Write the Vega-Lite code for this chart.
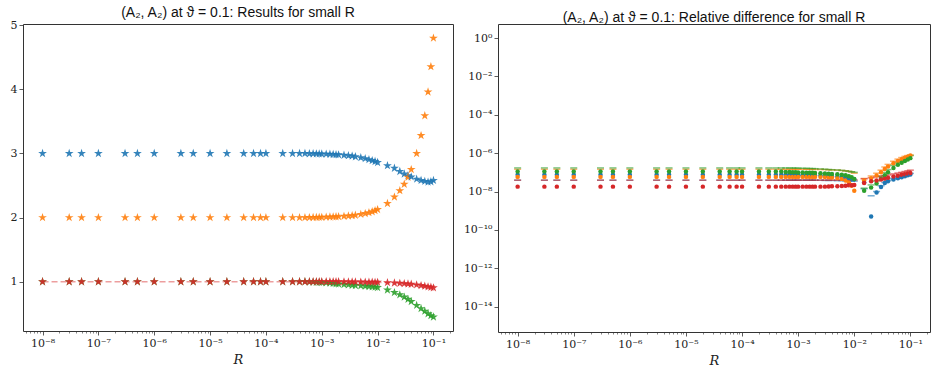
{
  "$schema": "https://vega.github.io/schema/vega-lite/v6.json",
  "padding": {"left": 9, "right": 9, "top": 5, "bottom": 2},
  "config": {
    "view": {"stroke": "#333", "strokeWidth": 1},
    "axis": {"grid": false, "domain": false, "tickColor": "#333", "tickWidth": 0.8, "labelFont": "DejaVu Serif", "labelFontSize": 11, "labelColor": "#222", "titleFont": "DejaVu Serif", "titleFontStyle": "italic", "titleFontWeight": "normal", "titleFontSize": 13, "titleColor": "#222", "tickSize": 4, "labelPadding": 2, "titlePadding": 5},
    "title": {"font": "Liberation Sans", "fontSize": 14, "fontWeight": "normal", "color": "#111", "frame": "group", "offset": 1, "dy": 2}
  },
  "datasets": {
    "d": [
      {"R": 1e-8, "b": 3, "o": 2, "g": 1, "r": 1, "bs": 7.5e-8, "os": 5.8e-8, "gs": 1.1e-7, "rs": 1.8e-8, "bd": 3.9e-8, "od": 1.45e-7, "gd": 1.7e-7, "rd": 3.9e-8},
      {"R": 3e-8, "b": 3, "o": 2, "g": 1, "r": 1, "bs": 7.5e-8, "os": 5.8e-8, "gs": 1.1e-7, "rs": 1.8e-8, "bd": 3.9e-8, "od": 1.45e-7, "gd": 1.7e-7, "rd": 3.9e-8},
      {"R": 5e-8, "b": 3, "o": 2, "g": 1, "r": 1, "bs": 7.5e-8, "os": 5.8e-8, "gs": 1.1e-7, "rs": 1.8e-8, "bd": 3.9e-8, "od": 1.45e-7, "gd": 1.7e-7, "rd": 3.9e-8},
      {"R": 1e-7, "b": 3, "o": 2, "g": 1, "r": 1, "bs": 7.5e-8, "os": 5.8e-8, "gs": 1.1e-7, "rs": 1.8e-8, "bd": 3.9e-8, "od": 1.45e-7, "gd": 1.7e-7, "rd": 3.9e-8},
      {"R": 3e-7, "b": 3, "o": 2, "g": 1, "r": 1, "bs": 7.5e-8, "os": 5.8e-8, "gs": 1.1e-7, "rs": 1.8e-8, "bd": 3.9e-8, "od": 1.45e-7, "gd": 1.7e-7, "rd": 3.9e-8},
      {"R": 5e-7, "b": 3, "o": 2, "g": 1, "r": 1, "bs": 7.5e-8, "os": 5.8e-8, "gs": 1.1e-7, "rs": 1.8e-8, "bd": 3.9e-8, "od": 1.45e-7, "gd": 1.7e-7, "rd": 3.9e-8},
      {"R": 1e-6, "b": 3, "o": 2, "g": 1, "r": 1, "bs": 7.5e-8, "os": 5.8e-8, "gs": 1.1e-7, "rs": 1.8e-8, "bd": 3.9e-8, "od": 1.45e-7, "gd": 1.7e-7, "rd": 3.9e-8},
      {"R": 3e-6, "b": 3, "o": 2, "g": 1, "r": 1, "bs": 7.5e-8, "os": 5.8e-8, "gs": 1.1e-7, "rs": 1.8e-8, "bd": 3.9e-8, "od": 1.45e-7, "gd": 1.7e-7, "rd": 3.9e-8},
      {"R": 5e-6, "b": 3, "o": 2, "g": 1, "r": 1, "bs": 7.5e-8, "os": 5.8e-8, "gs": 1.1e-7, "rs": 1.8e-8, "bd": 3.9e-8, "od": 1.45e-7, "gd": 1.7e-7, "rd": 3.9e-8},
      {"R": 1e-5, "b": 3, "o": 2, "g": 1, "r": 1, "bs": 7.5e-8, "os": 5.8e-8, "gs": 1.1e-7, "rs": 1.8e-8, "bd": 3.9e-8, "od": 1.45e-7, "gd": 1.7e-7, "rd": 3.9e-8},
      {"R": 2e-5, "b": 3, "o": 2, "g": 1, "r": 1, "bs": 7.5e-8, "os": 5.8e-8, "gs": 1.1e-7, "rs": 1.8e-8, "bd": 3.9e-8, "od": 1.45e-7, "gd": 1.7e-7, "rd": 3.9e-8},
      {"R": 4e-5, "b": 3, "o": 2, "g": 1, "r": 1, "bs": 7.5e-8, "os": 5.8e-8, "gs": 1.1e-7, "rs": 1.8e-8, "bd": 3.9e-8, "od": 1.45e-7, "gd": 1.7e-7, "rd": 3.9e-8},
      {"R": 6e-5, "b": 3, "o": 2, "g": 1, "r": 1, "bs": 7.5e-8, "os": 5.8e-8, "gs": 1.1e-7, "rs": 1.8e-8, "bd": 3.9e-8, "od": 1.45e-7, "gd": 1.7e-7, "rd": 3.9e-8},
      {"R": 8e-5, "b": 3, "o": 2, "g": 1, "r": 1, "bs": 7.5e-8, "os": 5.8e-8, "gs": 1.1e-7, "rs": 1.8e-8, "bd": 3.9e-8, "od": 1.45e-7, "gd": 1.7e-7, "rd": 3.9e-8},
      {"R": 1e-4, "b": 3, "o": 2, "g": 1, "r": 1, "bs": 7.5e-8, "os": 5.8e-8, "gs": 1.1e-7, "rs": 1.8e-8, "bd": 3.9e-8, "od": 1.45e-7, "gd": 1.7e-7, "rd": 3.9e-8},
      {"R": 2e-4, "b": 3, "o": 2, "g": 1, "r": 1, "bs": 7.5e-8, "os": 5.8e-8, "gs": 1.1e-7, "rs": 1.8e-8, "bd": 3.9e-8, "od": 1.45e-7, "gd": 1.7e-7, "rd": 3.9e-8},
      {"R": 3e-4, "b": 3, "o": 2, "g": 1, "r": 1, "bs": 7.5e-8, "os": 5.8e-8, "gs": 1.1e-7, "rs": 1.8e-8, "bd": 3.9e-8, "od": 1.45e-7, "gd": 1.7e-7, "rd": 3.9e-8},
      {"R": 4e-4, "b": 3, "o": 2, "g": 1, "r": 1, "bs": 7.5e-8, "os": 5.8e-8, "gs": 1.1e-7, "rs": 1.8e-8, "bd": 3.9e-8, "od": 1.45e-7, "gd": 1.7e-7, "rd": 3.9e-8},
      {"R": 5e-4, "b": 3, "o": 2, "g": 1, "r": 1, "bs": 7.5e-8, "os": 5.8e-8, "gs": 1.1e-7, "rs": 1.8e-8, "bd": 3.9e-8, "od": 1.45e-7, "gd": 1.7e-7, "rd": 3.9e-8},
      {"R": 6e-4, "b": 2.997, "o": 2.001, "g": 0.996, "r": 1, "bs": 7.4e-8, "os": 5.8e-8, "gs": 1.05e-7, "rs": 1.8e-8, "bd": 3.9e-8, "od": 1.45e-7, "gd": 1.69e-7, "rd": 3.9e-8},
      {"R": 7e-4, "b": 2.996, "o": 2.002, "g": 0.994, "r": 1, "bs": 7.3e-8, "os": 5.8e-8, "gs": 1.03e-7, "rs": 1.8e-8, "bd": 3.9e-8, "od": 1.45e-7, "gd": 1.68e-7, "rd": 3.9e-8},
      {"R": 8e-4, "b": 2.995, "o": 2.003, "g": 0.992, "r": 1, "bs": 7.3e-8, "os": 5.8e-8, "gs": 1.01e-7, "rs": 1.8e-8, "bd": 3.9e-8, "od": 1.45e-7, "gd": 1.67e-7, "rd": 3.9e-8},
      {"R": 9e-4, "b": 2.994, "o": 2.004, "g": 0.99, "r": 1, "bs": 7.2e-8, "os": 5.8e-8, "gs": 1.0e-7, "rs": 1.8e-8, "bd": 3.9e-8, "od": 1.45e-7, "gd": 1.66e-7, "rd": 3.9e-8},
      {"R": 1e-3, "b": 2.992, "o": 2.005, "g": 0.988, "r": 1, "bs": 7.2e-8, "os": 5.8e-8, "gs": 9.9e-8, "rs": 1.8e-8, "bd": 3.9e-8, "od": 1.45e-7, "gd": 1.65e-7, "rd": 3.9e-8},
      {"R": 1.2e-3, "b": 2.99, "o": 2.007, "g": 0.983, "r": 1, "bs": 7.1e-8, "os": 5.8e-8, "gs": 9.7e-8, "rs": 1.8e-8, "bd": 3.9e-8, "od": 1.44e-7, "gd": 1.63e-7, "rd": 3.9e-8},
      {"R": 1.4e-3, "b": 2.988, "o": 2.009, "g": 0.978, "r": 1, "bs": 7.1e-8, "os": 5.8e-8, "gs": 9.6e-8, "rs": 1.8e-8, "bd": 3.9e-8, "od": 1.44e-7, "gd": 1.61e-7, "rd": 3.9e-8},
      {"R": 1.6e-3, "b": 2.985, "o": 2.011, "g": 0.973, "r": 1, "bs": 7.0e-8, "os": 5.8e-8, "gs": 9.5e-8, "rs": 1.8e-8, "bd": 3.9e-8, "od": 1.43e-7, "gd": 1.59e-7, "rd": 3.9e-8},
      {"R": 1.8e-3, "b": 2.982, "o": 2.013, "g": 0.968, "r": 1, "bs": 7.0e-8, "os": 5.8e-8, "gs": 9.4e-8, "rs": 1.8e-8, "bd": 3.9e-8, "od": 1.43e-7, "gd": 1.57e-7, "rd": 3.9e-8},
      {"R": 2e-3, "b": 2.98, "o": 2.015, "g": 0.964, "r": 0.999, "bs": 6.9e-8, "os": 5.8e-8, "gs": 9.3e-8, "rs": 1.8e-8, "bd": 3.9e-8, "od": 1.42e-7, "gd": 1.55e-7, "rd": 3.9e-8},
      {"R": 2.5e-3, "b": 2.973, "o": 2.02, "g": 0.956, "r": 0.998, "bs": 6.8e-8, "os": 5.8e-8, "gs": 9.0e-8, "rs": 1.8e-8, "bd": 3.9e-8, "od": 1.41e-7, "gd": 1.5e-7, "rd": 3.9e-8},
      {"R": 3e-3, "b": 2.966, "o": 2.025, "g": 0.95, "r": 0.997, "bs": 6.6e-8, "os": 5.7e-8, "gs": 8.7e-8, "rs": 1.8e-8, "bd": 3.8e-8, "od": 1.4e-7, "gd": 1.45e-7, "rd": 3.9e-8},
      {"R": 3.5e-3, "b": 2.96, "o": 2.03, "g": 0.945, "r": 0.996, "bs": 6.4e-8, "os": 5.6e-8, "gs": 8.4e-8, "rs": 1.85e-8, "bd": 3.8e-8, "od": 1.37e-7, "gd": 1.4e-7, "rd": 3.9e-8},
      {"R": 4e-3, "b": 2.95, "o": 2.037, "g": 0.94, "r": 0.995, "bs": 6.2e-8, "os": 5.4e-8, "gs": 8.2e-8, "rs": 1.9e-8, "bd": 3.8e-8, "od": 1.34e-7, "gd": 1.37e-7, "rd": 3.9e-8},
      {"R": 5e-3, "b": 2.935, "o": 2.05, "g": 0.935, "r": 0.994, "bs": 6.0e-8, "os": 5.0e-8, "gs": 8.0e-8, "rs": 1.9e-8, "bd": 3.7e-8, "od": 1.3e-7, "gd": 1.33e-7, "rd": 3.9e-8},
      {"R": 6e-3, "b": 2.92, "o": 2.063, "g": 0.93, "r": 0.993, "bs": 5.7e-8, "os": 4.5e-8, "gs": 7.5e-8, "rs": 1.95e-8, "bd": 3.7e-8, "od": 1.25e-7, "gd": 1.27e-7, "rd": 3.9e-8},
      {"R": 7e-3, "b": 2.905, "o": 2.077, "g": 0.925, "r": 0.992, "bs": 5.4e-8, "os": 3.8e-8, "gs": 7.0e-8, "rs": 2.0e-8, "bd": 3.6e-8, "od": 1.2e-7, "gd": 1.2e-7, "rd": 3.9e-8},
      {"R": 8e-3, "b": 2.89, "o": 2.092, "g": 0.92, "r": 0.991, "bs": 5.0e-8, "os": 3.0e-8, "gs": 6.3e-8, "rs": 2.1e-8, "bd": 3.6e-8, "od": 1.12e-7, "gd": 1.13e-7, "rd": 3.9e-8},
      {"R": 9e-3, "b": 2.875, "o": 2.108, "g": 0.915, "r": 0.99, "bs": 4.7e-8, "os": 2.0e-8, "gs": 5.5e-8, "rs": 2.1e-8, "bd": 3.5e-8, "od": 1.05e-7, "gd": 1.07e-7, "rd": 3.9e-8},
      {"R": 1e-2, "b": 2.86, "o": 2.125, "g": 0.91, "r": 0.99, "bs": 4.4e-8, "os": 1.1e-8, "gs": 4.5e-8, "rs": 2.2e-8, "bd": 3.5e-8, "od": 9e-8, "gd": 1.0e-7, "rd": 4.0e-8},
      {"R": 0.015, "b": 2.81, "o": 2.22, "g": 0.87, "r": 0.985, "bs": 3.0e-8, "os": 3.7e-8, "gs": 1.1e-8, "rs": 2.8e-8, "bd": 1.4e-8, "od": 4.8e-8, "gd": 1.5e-8, "rd": 4.6e-8},
      {"R": 0.02, "b": 2.77, "o": 2.32, "g": 0.83, "r": 0.98, "bs": 5e-10, "os": 5.0e-8, "gs": 1.6e-8, "rs": 3.4e-8, "bd": 6e-9, "od": 6.5e-8, "gd": 2.2e-8, "rd": 5.2e-8},
      {"R": 0.025, "b": 2.72, "o": 2.42, "g": 0.795, "r": 0.975, "bs": 9e-9, "os": 6.8e-8, "gs": 2.6e-8, "rs": 3.8e-8, "bd": 1.0e-8, "od": 9e-8, "gd": 3.6e-8, "rd": 5.8e-8},
      {"R": 0.03, "b": 2.68, "o": 2.52, "g": 0.76, "r": 0.97, "bs": 1.7e-8, "os": 1.0e-7, "gs": 4.6e-8, "rs": 4.2e-8, "bd": 2.0e-8, "od": 1.3e-7, "gd": 6.4e-8, "rd": 6.3e-8},
      {"R": 0.035, "b": 2.655, "o": 2.63, "g": 0.725, "r": 0.965, "bs": 2.8e-8, "os": 1.5e-7, "gs": 7.0e-8, "rs": 4.7e-8, "bd": 3.0e-8, "od": 1.9e-7, "gd": 9.8e-8, "rd": 6.8e-8},
      {"R": 0.04, "b": 2.635, "o": 2.75, "g": 0.69, "r": 0.96, "bs": 3.4e-8, "os": 2.0e-7, "gs": 1.0e-7, "rs": 5.2e-8, "bd": 3.8e-8, "od": 2.6e-7, "gd": 1.4e-7, "rd": 7.3e-8},
      {"R": 0.05, "b": 2.6, "o": 3.0, "g": 0.63, "r": 0.95, "bs": 4.2e-8, "os": 3.0e-7, "gs": 1.7e-7, "rs": 6.0e-8, "bd": 4.8e-8, "od": 3.8e-7, "gd": 2.3e-7, "rd": 8.3e-8},
      {"R": 0.06, "b": 2.58, "o": 3.28, "g": 0.58, "r": 0.94, "bs": 4.9e-8, "os": 3.9e-7, "gs": 2.5e-7, "rs": 6.7e-8, "bd": 5.7e-8, "od": 4.9e-7, "gd": 3.3e-7, "rd": 9.2e-8},
      {"R": 0.07, "b": 2.565, "o": 3.59, "g": 0.54, "r": 0.93, "bs": 5.6e-8, "os": 4.8e-7, "gs": 3.2e-7, "rs": 7.4e-8, "bd": 6.5e-8, "od": 5.9e-7, "gd": 4.3e-7, "rd": 1.0e-7},
      {"R": 0.08, "b": 2.555, "o": 3.96, "g": 0.5, "r": 0.92, "bs": 6.3e-8, "os": 5.7e-7, "gs": 3.9e-7, "rs": 8.0e-8, "bd": 7.3e-8, "od": 6.8e-7, "gd": 5.3e-7, "rd": 1.1e-7},
      {"R": 0.09, "b": 2.56, "o": 4.355, "g": 0.47, "r": 0.913, "bs": 7.0e-8, "os": 6.6e-7, "gs": 4.7e-7, "rs": 8.7e-8, "bd": 8.0e-8, "od": 7.5e-7, "gd": 6.4e-7, "rd": 1.2e-7},
      {"R": 0.1, "b": 2.58, "o": 4.8, "g": 0.45, "r": 0.905, "bs": 7.8e-8, "os": 7.5e-7, "gs": 5.5e-7, "rs": 9.3e-8, "bd": 8.8e-8, "od": 8.0e-7, "gd": 7.5e-7, "rd": 1.3e-7}
    ]
  },
  "data": {"name": "d"},
  "bounds": "flush",
  "spacing": 45,
  "resolve": {"scale": {"color": "independent", "x": "independent", "y": "independent"}},
  "hconcat": [
    {
      "width": 430,
      "height": 307,
      "title": {"text": "(A₂, A₂) at ϑ = 0.1: Results for small R"},
      "layer": [
        {
          "mark": {"type": "line", "color": "#d62728", "strokeDash": [6, 3], "strokeWidth": 1.5, "opacity": 0.45},
          "encoding": {
            "x": {"field": "R", "type": "quantitative", "scale": {"type": "log", "domain": [4.467e-9, 0.2239], "nice": false},
                  "axis": {"orient": "bottom", "title": null, "labels": false, "tickSize": 2, "tickWidth": 0.6,
                           "values": [5e-9, 6e-9, 7e-9, 8e-9, 9e-9, 2e-8, 3e-8, 4e-8, 5e-8, 6e-8, 7e-8, 8e-8, 9e-8, 2e-7, 3e-7, 4e-7, 5e-7, 6e-7, 7e-7, 8e-7, 9e-7, 2e-6, 3e-6, 4e-6, 5e-6, 6e-6, 7e-6, 8e-6, 9e-6, 2e-5, 3e-5, 4e-5, 5e-5, 6e-5, 7e-5, 8e-5, 9e-5, 2e-4, 3e-4, 4e-4, 5e-4, 6e-4, 7e-4, 8e-4, 9e-4, 2e-3, 3e-3, 4e-3, 5e-3, 6e-3, 7e-3, 8e-3, 9e-3, 0.02, 0.03, 0.04, 0.05, 0.06, 0.07, 0.08, 0.09, 0.2]}},
            "y": {"field": "r", "type": "quantitative", "scale": {"domain": [0.23, 5.02], "nice": false, "zero": false},
                  "axis": {"values": [1, 2, 3, 4, 5], "title": null}}
          }
        },
        {
          "transform": [{"fold": ["b", "o", "g", "r"], "as": ["s", "v"]}],
          "mark": {"type": "point", "shape": "M0,-1L0.2245,-0.309L0.951,-0.309L0.363,0.118L0.588,0.809L0,0.382L-0.588,0.809L-0.363,0.118L-0.951,-0.309L-0.2245,-0.309Z", "filled": true, "size": 85, "opacity": 0.9},
          "encoding": {
            "x": {"field": "R", "type": "quantitative", "scale": {"type": "log", "domain": [4.467e-9, 0.2239], "nice": false},
                  "axis": {"orient": "bottom", "title": "R", "values": [1e-8, 1e-7, 1e-6, 1e-5, 1e-4, 1e-3, 1e-2, 1e-1],
                           "labelExpr": "['10⁰','10⁻¹','10⁻²','10⁻³','10⁻⁴','10⁻⁵','10⁻⁶','10⁻⁷','10⁻⁸'][round(-log(datum.value)/LN10)]"}},
            "y": {"field": "v", "type": "quantitative", "scale": {"domain": [0.23, 5.02], "nice": false, "zero": false},
                  "axis": {"values": [1, 2, 3, 4, 5], "title": null}},
            "color": {"field": "s", "type": "nominal", "scale": {"domain": ["b", "o", "g", "r"], "range": ["#1f77b4", "#ff7f0e", "#2ca02c", "#d62728"]}, "legend": null}
          }
        }
      ],
      "resolve": {"axis": {"x": "independent"}}
    },
    {
      "width": 432,
      "height": 308,
      "title": {"text": "(A₂, A₂) at ϑ = 0.1: Relative difference for small R"},
      "layer": [
        {
          "transform": [{"fold": ["bd", "od", "gd", "rd"], "as": ["s", "v"]}],
          "mark": {"type": "point", "shape": "stroke", "filled": false, "size": 49, "strokeWidth": 1.5, "opacity": 0.6},
          "encoding": {
            "x": {"field": "R", "type": "quantitative", "scale": {"type": "log", "domain": [4.467e-9, 0.2239], "nice": false},
                  "axis": {"orient": "bottom", "title": null, "labels": false, "tickSize": 2, "tickWidth": 0.6,
                           "values": [5e-9, 6e-9, 7e-9, 8e-9, 9e-9, 2e-8, 3e-8, 4e-8, 5e-8, 6e-8, 7e-8, 8e-8, 9e-8, 2e-7, 3e-7, 4e-7, 5e-7, 6e-7, 7e-7, 8e-7, 9e-7, 2e-6, 3e-6, 4e-6, 5e-6, 6e-6, 7e-6, 8e-6, 9e-6, 2e-5, 3e-5, 4e-5, 5e-5, 6e-5, 7e-5, 8e-5, 9e-5, 2e-4, 3e-4, 4e-4, 5e-4, 6e-4, 7e-4, 8e-4, 9e-4, 2e-3, 3e-3, 4e-3, 5e-3, 6e-3, 7e-3, 8e-3, 9e-3, 0.02, 0.03, 0.04, 0.05, 0.06, 0.07, 0.08, 0.09, 0.2]}},
            "y": {"field": "v", "type": "quantitative", "scale": {"type": "log", "domain": [4.786e-16, 5.37], "nice": false},
                  "axis": {"values": [1, 1e-2, 1e-4, 1e-6, 1e-8, 1e-10, 1e-12, 1e-14], "title": null,
                           "labelExpr": "['10⁰','10⁻¹','10⁻²','10⁻³','10⁻⁴','10⁻⁵','10⁻⁶','10⁻⁷','10⁻⁸','10⁻⁹','10⁻¹⁰','10⁻¹¹','10⁻¹²','10⁻¹³','10⁻¹⁴'][round(-log(datum.value)/LN10)]"}},
            "color": {"field": "s", "type": "nominal", "scale": {"domain": ["bd", "od", "gd", "rd", "bs", "os", "gs", "rs"], "range": ["#1f77b4", "#ff7f0e", "#2ca02c", "#d62728", "#1f77b4", "#ff7f0e", "#2ca02c", "#d62728"]}, "legend": null}
          }
        },
        {
          "transform": [{"fold": ["bs", "os", "gs", "rs"], "as": ["s", "v"]}],
          "mark": {"type": "circle", "size": 20, "opacity": 1},
          "encoding": {
            "x": {"field": "R", "type": "quantitative", "scale": {"type": "log", "domain": [4.467e-9, 0.2239], "nice": false},
                  "axis": {"orient": "bottom", "title": "R", "values": [1e-8, 1e-7, 1e-6, 1e-5, 1e-4, 1e-3, 1e-2, 1e-1],
                           "labelExpr": "['10⁰','10⁻¹','10⁻²','10⁻³','10⁻⁴','10⁻⁵','10⁻⁶','10⁻⁷','10⁻⁸'][round(-log(datum.value)/LN10)]"}},
            "y": {"field": "v", "type": "quantitative", "scale": {"type": "log", "domain": [4.786e-16, 5.37], "nice": false},
                  "axis": {"values": [1, 1e-2, 1e-4, 1e-6, 1e-8, 1e-10, 1e-12, 1e-14], "title": null,
                           "labelExpr": "['10⁰','10⁻¹','10⁻²','10⁻³','10⁻⁴','10⁻⁵','10⁻⁶','10⁻⁷','10⁻⁸','10⁻⁹','10⁻¹⁰','10⁻¹¹','10⁻¹²','10⁻¹³','10⁻¹⁴'][round(-log(datum.value)/LN10)]"}},
            "color": {"field": "s", "type": "nominal", "scale": {"domain": ["bd", "od", "gd", "rd", "bs", "os", "gs", "rs"], "range": ["#1f77b4", "#ff7f0e", "#2ca02c", "#d62728", "#1f77b4", "#ff7f0e", "#2ca02c", "#d62728"]}, "legend": null}
          }
        }
      ],
      "resolve": {"axis": {"x": "independent"}}
    }
  ]
}
